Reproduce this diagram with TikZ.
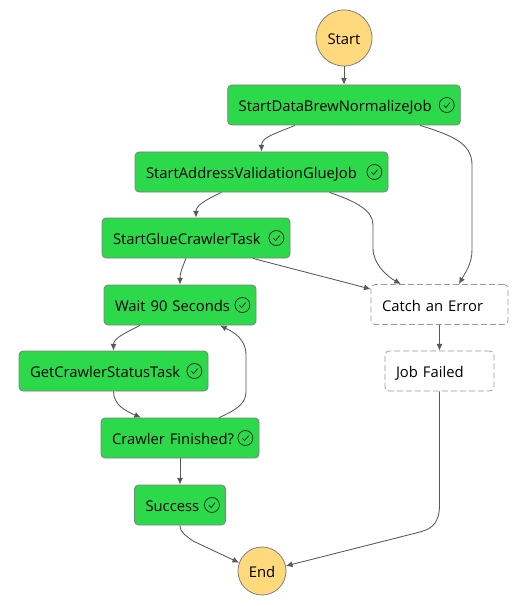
\documentclass[tikz,border=0pt]{standalone}
\usepackage{fontspec}
\setmainfont{Open Sans}
\usetikzlibrary{arrows.meta}

\begin{document}
\begin{tikzpicture}[
        x=0.75pt, y=-0.75pt,
        every node/.style={font=\fontsize{11.1pt}{12pt}\selectfont, text=black, text height=10pt, text depth=0pt},
        terminal/.style={circle, draw=black!50, line width=0.6pt, fill=termyellow, inner sep=0pt},
        taskbox/.style={draw=black!50, line width=0.6pt, fill=taskgreen, rounded corners=3pt, minimum height=30pt, inner xsep=8.25pt, inner ysep=0pt, text width=#1, align=left},
        catchbox/.style={taskbox=#1, draw=black!40, fill=white, dash pattern=on 4.5pt off 2.25pt},
        flow/.style={draw=black!65, line width=0.65pt, -{Latex[length=5pt,width=4.5pt]}},
        okicon/.pic={
                \draw[black!90, line width=0.5pt] (0,0) circle (7.5);
                \draw[black!90, line width=0.5pt] (-3,0.3) -- (-0.8,2.6) -- (3.2,-2.4);
            }
    ]
    \definecolor{taskgreen}{HTML}{2BD94A}
    \definecolor{termyellow}{HTML}{FFD97C}
    \useasboundingbox (0,0) rectangle (524,606);

    % Start and end
    \node[terminal, minimum size=42pt] (start) at (344,38) {Start};
    \node[terminal, minimum size=36pt] (end) at (262,571) {End};

    % Task states
    \node[taskbox=158pt] (databrew) at (344,105) {StartDataBrewNormalizeJob};
    \node[taskbox=173.25pt] (address) at (261.5,172) {StartAddressValidationGlueJob};
    \node[taskbox=124.5pt] (crawler) at (196,238) {StartGlueCrawlerTask};
    \node[taskbox=97.5pt] (wait) at (180,305) {Wait 90 Seconds};
    \node[taskbox=125.25pt] (status) at (113.5,371) {GetCrawlerStatusTask};
    \node[taskbox=102pt] (finished) at (180,438) {Crawler Finished?};
    \node[taskbox=51.75pt] (success) at (180,505) {Success};

    % Error states
    \node[catchbox=86.25pt] (catch) at (439.5,304.5) {Catch an Error};
    \node[catchbox=65.25pt] (failed) at (439.5,371) {Job Failed};

    % Check icons
    \foreach \name in {databrew, address, crawler, wait, status, finished, success} {
            \pic at ([xshift=-10.5pt]\name.east) {okicon};
        }

    % Main path
    \draw[flow] (start) -- (databrew);
    \draw[flow] ([xshift=-36.75pt]databrew.south) .. controls +(-22,9) and +(0,-14) .. (address.north);
    \draw[flow] ([xshift=-30pt]address.south) .. controls +(-17,8) and +(0,-12) .. (crawler.north);
    \draw[flow] ([xshift=-7.5pt]crawler.south) .. controls +(-4,10) and +(0,-12) .. (wait.north);
    \draw[flow] ([xshift=-30pt]wait.south) .. controls +(-16,8) and +(0,-12) .. (status.north);
    \draw[flow] (status.south) .. controls +(0,14) and +(-14,-6) .. ([xshift=-29.25pt]finished.north);
    \draw[flow] (finished) -- (success);

    % Retry loop
    \coordinate (loopa) at (246,392);
    \coordinate (loopb) at (246,355);
    \draw[flow] ([xshift=29.25pt]finished.north) .. controls +(16,-7) and +(0,12) .. (loopa)
    -- (loopb) .. controls +(0,-16) and +(14,7) .. ([xshift=30pt]wait.south);

    % Catch paths
    \coordinate (catcha) at (472,165);
    \coordinate (catchb) at (472,250);
    \draw[flow] ([xshift=57pt]databrew.south) .. controls +(32,10) and +(0,-22) .. (catcha)
    -- (catchb) .. controls +(0,14) and +(6,-11) .. ([xshift=14.6pt]catch.north);
    \coordinate (catchc) at (373,225);
    \coordinate (catchd) at (373,248);
    \draw[flow] ([xshift=51pt]address.south) .. controls +(26,9) and +(0,-15) .. (catchc)
    -- (catchd) .. controls +(0,16) and +(-14,-8) .. ([xshift=-29pt]catch.north);
    \draw[flow] ([xshift=42.75pt]crawler.south) .. controls +(30,8) and +(-30,-8) .. ([yshift=-3.75pt]catch.north west);

    % Ends
    \draw[flow] (catch) -- (failed);
    \coordinate (faila) at (439.5,505);
    \draw[flow] (failed.south) -- (faila) .. controls +(0,22) and +(12,-3) .. (416,533) -- (end.12);
    \coordinate (succa) at (193,541);
    \draw[flow] (success.south) .. controls +(0,8) and +(-5,-4) .. (succa) -- (end.160);
\end{tikzpicture}
\end{document}
